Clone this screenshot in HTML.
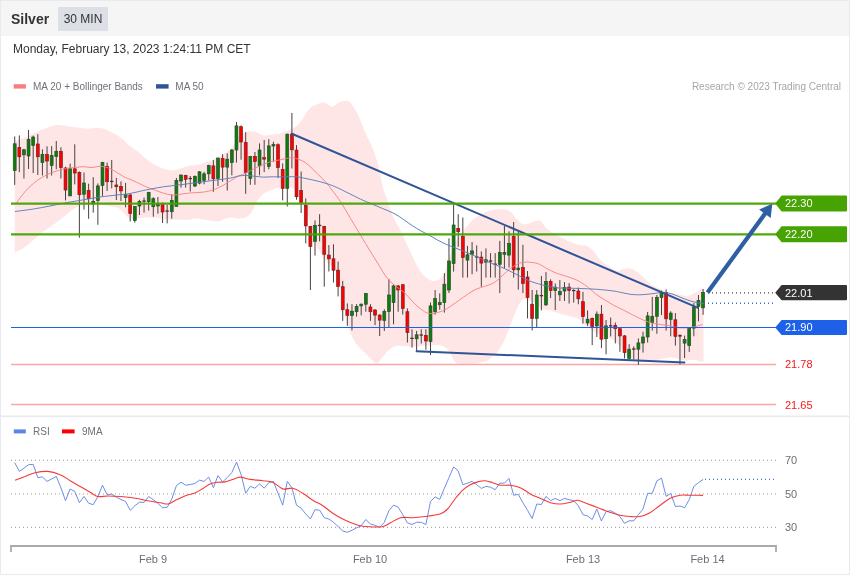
<!DOCTYPE html>
<html><head><meta charset="utf-8"><title>Silver 30 MIN</title>
<style>
html,body{margin:0;padding:0;background:#fff;}
body{width:850px;height:576px;overflow:hidden;position:relative;font-family:"Liberation Sans",Arial,sans-serif;}
#wrap{position:absolute;left:0;top:0;width:848px;height:573px;border:1px solid #e8ebee;background:#fff;}
#hdr{position:absolute;left:0;top:0;width:848px;height:35px;background:#f5f5f5;}
#ttl{position:absolute;left:10px;top:10px;font-size:14px;font-weight:bold;color:#333;line-height:16px;}
#tf{position:absolute;left:57px;top:6px;width:50px;height:24px;background:#dcdfe6;color:#333;font-size:12px;line-height:24px;text-align:center;}
#dt{position:absolute;left:12px;top:41px;font-size:12px;color:#333;line-height:14px;white-space:nowrap;}
svg{position:absolute;left:0;top:0;font-family:"Liberation Sans",Arial,sans-serif;}
</style></head><body>
<div id="wrap"><div id="hdr"><div id="ttl">Silver</div><div id="tf">30 MIN</div></div>
<div id="dt">Monday, February 13, 2023 1:24:11 PM CET</div></div>
<svg width="850" height="576" viewBox="0 0 850 576">
<path d="M14.7,141.5 C16.4,140.8 21.9,138.9 25.0,137.6 C28.1,136.2 30.6,134.7 33.4,133.4 C36.2,132.1 39.0,130.8 41.8,129.7 C44.6,128.6 47.6,127.5 50.1,126.7 C52.6,125.9 54.6,125.2 56.8,125.0 C59.0,124.8 61.3,125.1 63.5,125.4 C65.7,125.7 67.7,126.3 70.2,126.7 C72.7,127.1 75.7,127.3 78.5,127.6 C81.3,127.9 84.1,128.6 86.9,128.7 C89.7,128.8 92.4,128.1 95.2,128.1 C98.0,128.1 101.1,128.1 103.6,128.7 C106.1,129.3 108.1,130.6 110.3,131.7 C112.5,132.8 114.7,133.7 116.9,135.1 C119.1,136.5 121.6,138.4 123.6,140.1 C125.5,141.8 126.9,143.7 128.6,145.1 C130.3,146.5 132.0,147.3 133.6,148.5 C135.2,149.7 136.2,150.2 138.4,152.0 C140.6,153.8 143.9,157.0 146.7,159.2 C149.5,161.4 152.2,163.5 155.0,165.1 C157.8,166.7 160.6,167.9 163.4,168.8 C166.2,169.7 169.0,170.5 171.8,170.4 C174.6,170.3 177.3,169.2 180.1,168.4 C182.9,167.7 185.7,166.5 188.5,165.9 C191.3,165.3 194.0,165.7 196.8,165.1 C199.6,164.5 202.4,163.6 205.2,162.6 C208.0,161.6 210.7,160.4 213.5,159.2 C216.3,157.9 219.1,156.8 221.9,155.1 C224.7,153.4 228.2,150.9 230.2,149.2 C232.1,147.5 232.2,147.1 233.6,145.0 C235.0,142.9 236.4,138.9 238.6,136.7 C240.8,134.5 244.2,132.5 247.0,131.7 C249.8,130.9 252.5,131.1 255.3,131.7 C258.1,132.3 261.1,135.0 263.6,135.5 C266.1,136.0 267.9,135.0 270.4,134.7 C272.9,134.4 275.9,134.3 278.7,133.7 C281.5,133.1 284.2,132.1 287.0,130.9 C289.8,129.7 292.9,128.5 295.4,126.7 C297.9,124.9 299.8,122.9 302.0,120.0 C304.2,117.1 306.6,111.7 308.8,109.2 C311.1,106.7 313.0,106.1 315.5,105.0 C318.0,103.9 321.0,102.2 323.8,102.5 C326.6,102.8 329.7,106.7 332.2,106.7 C334.7,106.7 336.3,103.5 338.8,102.5 C341.3,101.5 345.0,100.4 347.2,100.8 C349.4,101.2 350.2,102.3 352.2,105.0 C354.1,107.7 356.7,112.0 358.9,116.7 C361.1,121.4 363.4,128.4 365.6,133.4 C367.8,138.4 370.3,142.1 372.2,146.8 C374.1,151.5 375.8,156.9 377.2,161.8 C378.6,166.7 379.6,171.6 380.6,176.0 C381.6,180.4 382.1,184.7 383.0,188.0 C383.9,191.3 385.0,193.2 386.0,196.0 C387.0,198.8 387.7,201.3 389.0,205.0 C390.3,208.7 392.3,214.7 394.0,218.4 C395.7,222.2 397.3,224.2 399.0,227.5 C400.7,230.8 402.0,233.5 404.3,238.4 C406.6,243.3 410.2,251.5 412.7,256.8 C415.2,262.1 417.2,266.6 419.4,270.0 C421.6,273.4 423.8,275.7 426.0,277.5 C428.2,279.3 430.5,280.6 432.7,280.9 C434.9,281.2 437.4,280.5 439.4,279.2 C441.3,277.9 443.0,276.0 444.4,273.3 C445.8,270.6 446.7,266.9 448.0,263.0 C449.3,259.1 450.5,254.0 452.0,250.0 C453.5,246.0 455.2,242.1 457.0,239.0 C458.8,235.9 461.0,234.0 462.8,231.7 C464.6,229.4 465.9,227.3 467.8,225.1 C469.8,222.9 472.0,220.3 474.5,218.4 C477.0,216.5 480.0,214.8 482.8,213.4 C485.6,212.0 488.4,210.7 491.2,210.0 C494.0,209.3 496.4,209.0 499.5,209.2 C502.6,209.3 506.7,209.4 509.5,210.9 C512.3,212.4 514.2,216.3 516.2,218.4 C518.2,220.5 519.5,222.4 521.2,223.4 C522.9,224.4 524.2,224.4 526.2,224.2 C528.2,223.9 530.6,222.5 532.9,221.9 C535.2,221.3 537.7,219.7 540.0,220.8 C542.3,221.9 544.2,226.2 546.7,228.4 C549.2,230.6 552.2,232.5 555.0,234.2 C557.8,235.9 560.6,237.0 563.4,238.4 C566.2,239.8 569.0,241.4 571.8,242.5 C574.6,243.6 577.6,244.4 580.1,245.0 C582.6,245.6 584.6,244.9 586.8,245.9 C589.0,246.9 591.3,248.5 593.5,250.9 C595.7,253.3 598.0,257.7 600.2,260.1 C602.4,262.5 604.6,263.6 606.8,265.1 C609.0,266.6 611.5,268.3 613.5,269.3 C615.5,270.3 616.8,271.0 618.5,270.9 C620.2,270.8 621.5,269.2 623.5,268.8 C625.5,268.4 628.0,267.9 630.2,268.4 C632.4,268.9 634.7,270.3 636.9,271.8 C639.1,273.3 641.4,275.6 643.6,277.6 C645.8,279.6 648.2,282.4 650.3,284.0 C652.4,285.6 654.0,285.9 656.0,286.9 C658.0,287.9 660.4,289.1 662.5,290.0 C664.6,290.9 666.7,291.9 668.8,292.5 C670.9,293.1 673.0,293.4 675.0,293.8 C677.0,294.2 678.9,294.6 681.0,295.0 C683.1,295.4 685.8,296.3 687.5,296.3 C689.2,296.3 689.3,295.8 691.0,295.0 C692.7,294.2 695.4,292.6 697.5,291.3 C699.6,290.1 702.5,288.1 703.5,287.5 L703.5,361.9 C701.7,361.6 695.6,360.2 692.5,360.0 C689.4,359.8 688.4,361.0 685.0,360.6 C681.6,360.2 675.6,358.0 672.0,357.6 C668.4,357.2 666.4,358.1 663.6,358.5 C660.8,358.9 658.1,359.6 655.3,360.1 C652.5,360.7 649.7,361.5 646.9,361.8 C644.1,362.1 641.4,362.2 638.6,361.8 C635.8,361.4 632.4,360.4 630.2,359.3 C628.0,358.2 626.9,357.2 625.2,355.1 C623.5,353.0 622.2,349.3 620.2,346.8 C618.2,344.3 616.0,341.8 613.5,340.1 C611.0,338.4 607.9,337.9 605.1,336.8 C602.3,335.7 599.3,334.7 596.8,333.4 C594.3,332.1 592.1,330.6 590.0,329.0 C587.9,327.4 585.7,325.5 584.0,324.0 C582.3,322.5 581.5,321.1 580.0,320.0 C578.5,318.9 577.5,318.3 575.0,317.5 C572.5,316.7 567.9,315.8 565.0,315.0 C562.1,314.2 560.0,313.7 557.5,313.0 C555.0,312.3 552.1,311.1 550.0,310.6 C547.9,310.1 546.7,310.4 545.0,310.0 C543.3,309.6 541.7,309.2 540.0,308.0 C538.3,306.8 537.1,304.4 535.0,303.0 C532.9,301.6 529.6,300.0 527.5,299.5 C525.4,299.0 524.1,298.8 522.5,300.0 C520.9,301.2 519.5,303.6 517.9,306.7 C516.3,309.8 514.6,314.2 512.9,318.4 C511.2,322.6 509.6,327.6 507.9,331.8 C506.2,336.0 504.8,339.9 502.9,343.5 C500.9,347.1 498.7,350.7 496.2,353.5 C493.7,356.3 490.6,358.7 487.8,360.2 C485.0,361.7 482.3,362.1 479.5,362.7 C476.7,363.3 473.9,363.5 471.1,363.8 C468.3,364.1 465.3,364.5 462.8,364.3 C460.3,364.1 457.8,363.7 456.1,362.7 C454.4,361.7 453.9,360.3 452.8,358.5 C451.7,356.7 450.8,353.8 449.4,351.8 C448.0,349.9 446.3,347.9 444.4,346.8 C442.4,345.7 440.2,345.3 437.7,345.1 C435.2,344.9 432.2,345.4 429.4,345.5 C426.6,345.6 423.8,345.8 421.0,346.0 C418.2,346.2 415.5,346.8 412.7,346.8 C409.9,346.8 406.9,346.1 404.0,346.0 C401.1,345.9 398.1,345.3 395.6,346.0 C393.1,346.7 391.2,348.2 389.0,350.1 C386.8,352.0 384.2,355.4 382.2,357.6 C380.2,359.8 378.9,363.1 377.2,363.5 C375.5,363.9 374.1,361.9 372.2,360.2 C370.2,358.5 368.0,356.0 365.5,353.5 C363.0,351.0 359.4,347.9 357.2,345.1 C355.0,342.3 353.6,339.7 352.2,336.8 C350.8,333.9 350.3,333.2 348.8,327.6 C347.3,322.0 344.4,310.2 343.0,303.4 C341.6,296.6 341.8,292.3 340.5,286.7 C339.2,281.1 337.8,274.1 335.5,270.0 C333.2,265.9 330.1,265.9 327.0,262.0 C323.9,258.1 319.5,252.1 317.0,246.8 C314.5,241.5 313.6,235.6 312.0,230.0 C310.4,224.4 308.6,217.9 307.1,213.4 C305.6,208.9 304.4,205.7 302.9,203.0 C301.4,200.3 299.7,199.1 298.3,197.0 C296.9,194.9 295.6,192.1 294.5,190.5 C293.4,188.9 294.4,188.2 291.7,187.7 C289.0,187.2 281.8,187.4 278.5,187.7 C275.2,188.0 273.9,189.0 272.0,189.7 C270.1,190.4 268.7,190.8 267.0,191.7 C265.3,192.6 263.7,193.3 262.0,195.0 C260.3,196.7 258.6,198.9 256.9,201.7 C255.2,204.5 253.6,209.2 251.9,211.7 C250.2,214.2 249.2,215.5 247.0,216.7 C244.8,217.9 241.1,218.5 238.6,218.7 C236.1,218.8 234.0,217.6 231.8,217.6 C229.6,217.6 227.4,218.1 225.2,218.7 C223.0,219.3 220.4,221.0 218.5,221.4 C216.6,221.8 215.8,221.2 213.5,220.9 C211.2,220.6 207.8,220.1 205.0,219.7 C202.2,219.3 199.6,218.4 196.8,218.4 C194.1,218.4 191.3,219.5 188.5,219.7 C185.7,219.9 182.8,219.7 180.0,219.7 C177.2,219.7 174.6,219.8 171.8,219.7 C169.0,219.6 166.2,219.5 163.4,219.2 C160.6,218.8 158.6,217.8 155.0,217.6 C151.4,217.4 146.2,217.7 142.0,217.8 C137.8,217.9 133.2,219.4 130.0,218.4 C126.8,217.4 125.2,213.8 123.0,212.0 C120.8,210.2 119.4,208.6 117.0,207.6 C114.6,206.6 111.4,206.6 108.6,206.0 C105.8,205.4 102.8,204.7 100.0,204.3 C97.2,203.9 94.8,203.7 92.0,203.8 C89.2,203.9 86.3,204.3 83.5,205.0 C80.7,205.7 78.0,206.4 75.2,208.0 C72.4,209.6 69.6,212.1 66.8,214.3 C64.0,216.5 61.3,218.9 58.5,221.0 C55.7,223.1 52.8,224.9 50.0,226.8 C47.2,228.8 44.6,230.5 41.8,232.7 C39.0,234.9 36.2,237.6 33.4,240.0 C30.6,242.4 28.1,244.8 25.0,246.9 C21.9,249.0 16.4,251.7 14.7,252.7 Z" fill="#ffe6e6"/>
<line x1="11" x2="776" y1="364.5" y2="364.5" stroke="#f9a6a6" stroke-width="1.4"/>
<line x1="11" x2="776" y1="404.5" y2="404.5" stroke="#f9a6a6" stroke-width="1.4"/>
<line x1="14.70" x2="14.70" y1="136.4" y2="184.9" stroke="#4a4040" stroke-width="1"/>
<rect x="13.25" y="143.8" width="2.9" height="26.7" fill="#0a7f0a" stroke="#2f4a2f" stroke-width="0.7"/>
<line x1="19.32" x2="19.32" y1="135.4" y2="172.2" stroke="#4a4040" stroke-width="1"/>
<rect x="17.87" y="147.6" width="2.9" height="9.2" fill="#ff0000" stroke="#7a2020" stroke-width="0.7"/>
<line x1="23.94" x2="23.94" y1="148.8" y2="178.5" stroke="#4a4040" stroke-width="1"/>
<rect x="22.49" y="149.8" width="2.9" height="5.0" fill="#0a7f0a" stroke="#2f4a2f" stroke-width="0.7"/>
<line x1="28.56" x2="28.56" y1="130.0" y2="169.0" stroke="#4a4040" stroke-width="1"/>
<rect x="27.11" y="139.3" width="2.9" height="16.7" fill="#0a7f0a" stroke="#2f4a2f" stroke-width="0.7"/>
<line x1="33.18" x2="33.18" y1="135.6" y2="173.0" stroke="#4a4040" stroke-width="1"/>
<rect x="31.73" y="137.0" width="2.9" height="8.6" fill="#0a7f0a" stroke="#2f4a2f" stroke-width="0.7"/>
<line x1="37.80" x2="37.80" y1="134.2" y2="175.0" stroke="#4a4040" stroke-width="1"/>
<rect x="36.35" y="144.0" width="2.9" height="12.8" fill="#ff0000" stroke="#7a2020" stroke-width="0.7"/>
<line x1="42.42" x2="42.42" y1="149.4" y2="175.5" stroke="#4a4040" stroke-width="1"/>
<rect x="40.97" y="154.3" width="2.9" height="8.3" fill="#0a7f0a" stroke="#2f4a2f" stroke-width="0.7"/>
<line x1="47.04" x2="47.04" y1="146.3" y2="178.5" stroke="#4a4040" stroke-width="1"/>
<rect x="45.59" y="154.6" width="2.9" height="6.4" fill="#ff0000" stroke="#7a2020" stroke-width="0.7"/>
<line x1="51.66" x2="51.66" y1="146.0" y2="175.5" stroke="#4a4040" stroke-width="1"/>
<rect x="50.21" y="155.6" width="2.9" height="9.9" fill="#0a7f0a" stroke="#2f4a2f" stroke-width="0.7"/>
<line x1="56.28" x2="56.28" y1="141.0" y2="169.3" stroke="#4a4040" stroke-width="1"/>
<rect x="54.83" y="151.3" width="2.9" height="5.2" fill="#0a7f0a" stroke="#2f4a2f" stroke-width="0.7"/>
<line x1="60.90" x2="60.90" y1="147.3" y2="178.5" stroke="#4a4040" stroke-width="1"/>
<rect x="59.45" y="151.3" width="2.9" height="16.3" fill="#ff0000" stroke="#7a2020" stroke-width="0.7"/>
<line x1="65.52" x2="65.52" y1="166.8" y2="200.4" stroke="#4a4040" stroke-width="1"/>
<rect x="64.07" y="168.0" width="2.9" height="22.0" fill="#ff0000" stroke="#7a2020" stroke-width="0.7"/>
<line x1="70.14" x2="70.14" y1="163.7" y2="196.0" stroke="#4a4040" stroke-width="1"/>
<rect x="68.69" y="168.7" width="2.9" height="27.2" fill="#0a7f0a" stroke="#2f4a2f" stroke-width="0.7"/>
<line x1="74.76" x2="74.76" y1="144.3" y2="184.4" stroke="#4a4040" stroke-width="1"/>
<rect x="73.31" y="168.8" width="2.9" height="4.2" fill="#ff0000" stroke="#7a2020" stroke-width="0.7"/>
<line x1="79.38" x2="79.38" y1="171.4" y2="237.7" stroke="#4a4040" stroke-width="1"/>
<rect x="77.93" y="172.5" width="2.9" height="22.2" fill="#ff0000" stroke="#7a2020" stroke-width="0.7"/>
<line x1="84.00" x2="84.00" y1="172.5" y2="209.6" stroke="#4a4040" stroke-width="1"/>
<rect x="82.55" y="183.0" width="2.9" height="11.2" fill="#0a7f0a" stroke="#2f4a2f" stroke-width="0.7"/>
<line x1="88.62" x2="88.62" y1="183.7" y2="218.8" stroke="#4a4040" stroke-width="1"/>
<rect x="87.17" y="190.4" width="2.9" height="8.3" fill="#ff0000" stroke="#7a2020" stroke-width="0.7"/>
<line x1="93.24" x2="93.24" y1="177.2" y2="212.6" stroke="#4a4040" stroke-width="1"/>
<rect x="91.79" y="201.4" width="2.9" height="2.4" fill="#0a7f0a" stroke="#2f4a2f" stroke-width="0.7"/>
<line x1="97.86" x2="97.86" y1="183.4" y2="224.8" stroke="#4a4040" stroke-width="1"/>
<rect x="96.41" y="185.9" width="2.9" height="14.7" fill="#0a7f0a" stroke="#2f4a2f" stroke-width="0.7"/>
<line x1="102.48" x2="102.48" y1="161.8" y2="195.9" stroke="#4a4040" stroke-width="1"/>
<rect x="101.03" y="162.5" width="2.9" height="22.9" fill="#0a7f0a" stroke="#2f4a2f" stroke-width="0.7"/>
<line x1="107.10" x2="107.10" y1="162.6" y2="190.9" stroke="#4a4040" stroke-width="1"/>
<rect x="105.65" y="166.3" width="2.9" height="15.4" fill="#ff0000" stroke="#7a2020" stroke-width="0.7"/>
<line x1="111.72" x2="111.72" y1="160.0" y2="188.4" stroke="#4a4040" stroke-width="1"/>
<rect x="110.02" y="180.8" width="3.4" height="1.3" fill="#5e2626"/>
<line x1="116.34" x2="116.34" y1="177.9" y2="200.0" stroke="#4a4040" stroke-width="1"/>
<rect x="114.89" y="185.0" width="2.9" height="1.7" fill="#ff0000" stroke="#7a2020" stroke-width="0.7"/>
<line x1="120.96" x2="120.96" y1="181.4" y2="201.0" stroke="#4a4040" stroke-width="1"/>
<rect x="119.51" y="186.4" width="2.9" height="4.5" fill="#ff0000" stroke="#7a2020" stroke-width="0.7"/>
<line x1="125.58" x2="125.58" y1="182.9" y2="207.3" stroke="#4a4040" stroke-width="1"/>
<rect x="124.13" y="194.6" width="2.9" height="3.0" fill="#0a7f0a" stroke="#2f4a2f" stroke-width="0.7"/>
<line x1="130.20" x2="130.20" y1="193.4" y2="221.5" stroke="#4a4040" stroke-width="1"/>
<rect x="128.75" y="195.0" width="2.9" height="18.5" fill="#ff0000" stroke="#7a2020" stroke-width="0.7"/>
<line x1="134.82" x2="134.82" y1="206.0" y2="222.6" stroke="#4a4040" stroke-width="1"/>
<rect x="133.37" y="206.4" width="2.9" height="14.1" fill="#0a7f0a" stroke="#2f4a2f" stroke-width="0.7"/>
<line x1="139.44" x2="139.44" y1="199.8" y2="215.0" stroke="#4a4040" stroke-width="1"/>
<rect x="137.99" y="201.4" width="2.9" height="4.6" fill="#0a7f0a" stroke="#2f4a2f" stroke-width="0.7"/>
<line x1="144.06" x2="144.06" y1="197.5" y2="212.6" stroke="#4a4040" stroke-width="1"/>
<rect x="142.36" y="200.4" width="3.4" height="1.3" fill="#5e2626"/>
<line x1="148.68" x2="148.68" y1="191.7" y2="210.6" stroke="#4a4040" stroke-width="1"/>
<rect x="147.23" y="192.5" width="2.9" height="9.2" fill="#0a7f0a" stroke="#2f4a2f" stroke-width="0.7"/>
<line x1="153.30" x2="153.30" y1="197.2" y2="216.7" stroke="#4a4040" stroke-width="1"/>
<rect x="151.85" y="198.7" width="2.9" height="8.0" fill="#0a7f0a" stroke="#2f4a2f" stroke-width="0.7"/>
<line x1="157.92" x2="157.92" y1="197.0" y2="213.7" stroke="#4a4040" stroke-width="1"/>
<rect x="156.47" y="203.9" width="2.9" height="2.0" fill="#0a7f0a" stroke="#2f4a2f" stroke-width="0.7"/>
<line x1="162.54" x2="162.54" y1="202.5" y2="223.0" stroke="#4a4040" stroke-width="1"/>
<rect x="161.09" y="204.2" width="2.9" height="7.8" fill="#ff0000" stroke="#7a2020" stroke-width="0.7"/>
<line x1="167.16" x2="167.16" y1="204.7" y2="223.4" stroke="#4a4040" stroke-width="1"/>
<rect x="165.46" y="210.4" width="3.4" height="1.3" fill="#5e2626"/>
<line x1="171.78" x2="171.78" y1="194.2" y2="218.7" stroke="#4a4040" stroke-width="1"/>
<rect x="170.33" y="200.5" width="2.9" height="11.2" fill="#0a7f0a" stroke="#2f4a2f" stroke-width="0.7"/>
<line x1="176.40" x2="176.40" y1="178.0" y2="206.4" stroke="#4a4040" stroke-width="1"/>
<rect x="174.95" y="180.4" width="2.9" height="26.0" fill="#0a7f0a" stroke="#2f4a2f" stroke-width="0.7"/>
<line x1="181.02" x2="181.02" y1="174.3" y2="187.6" stroke="#4a4040" stroke-width="1"/>
<rect x="179.57" y="175.1" width="2.9" height="5.9" fill="#0a7f0a" stroke="#2f4a2f" stroke-width="0.7"/>
<line x1="185.64" x2="185.64" y1="174.8" y2="187.6" stroke="#4a4040" stroke-width="1"/>
<rect x="184.19" y="175.4" width="2.9" height="3.9" fill="#ff0000" stroke="#7a2020" stroke-width="0.7"/>
<line x1="190.26" x2="190.26" y1="176.0" y2="191.5" stroke="#4a4040" stroke-width="1"/>
<rect x="188.56" y="177.9" width="3.4" height="1.3" fill="#5e2626"/>
<line x1="194.88" x2="194.88" y1="175.4" y2="187.1" stroke="#4a4040" stroke-width="1"/>
<rect x="193.43" y="176.4" width="2.9" height="9.6" fill="#0a7f0a" stroke="#2f4a2f" stroke-width="0.7"/>
<line x1="199.50" x2="199.50" y1="171.3" y2="184.3" stroke="#4a4040" stroke-width="1"/>
<rect x="198.05" y="171.8" width="2.9" height="11.3" fill="#0a7f0a" stroke="#2f4a2f" stroke-width="0.7"/>
<line x1="204.12" x2="204.12" y1="171.8" y2="184.3" stroke="#4a4040" stroke-width="1"/>
<rect x="202.67" y="173.8" width="2.9" height="6.6" fill="#0a7f0a" stroke="#2f4a2f" stroke-width="0.7"/>
<line x1="208.74" x2="208.74" y1="164.7" y2="180.4" stroke="#4a4040" stroke-width="1"/>
<rect x="207.29" y="165.6" width="2.9" height="8.2" fill="#0a7f0a" stroke="#2f4a2f" stroke-width="0.7"/>
<line x1="213.36" x2="213.36" y1="160.1" y2="191.8" stroke="#4a4040" stroke-width="1"/>
<rect x="211.91" y="165.9" width="2.9" height="12.9" fill="#ff0000" stroke="#7a2020" stroke-width="0.7"/>
<line x1="217.98" x2="217.98" y1="157.6" y2="186.0" stroke="#4a4040" stroke-width="1"/>
<rect x="216.53" y="158.1" width="2.9" height="20.3" fill="#0a7f0a" stroke="#2f4a2f" stroke-width="0.7"/>
<line x1="222.60" x2="222.60" y1="154.2" y2="181.8" stroke="#4a4040" stroke-width="1"/>
<rect x="221.15" y="158.4" width="2.9" height="8.7" fill="#ff0000" stroke="#7a2020" stroke-width="0.7"/>
<line x1="227.22" x2="227.22" y1="153.4" y2="190.5" stroke="#4a4040" stroke-width="1"/>
<rect x="225.77" y="159.2" width="2.9" height="7.9" fill="#0a7f0a" stroke="#2f4a2f" stroke-width="0.7"/>
<line x1="231.84" x2="231.84" y1="149.2" y2="175.4" stroke="#4a4040" stroke-width="1"/>
<rect x="230.39" y="150.0" width="2.9" height="12.6" fill="#0a7f0a" stroke="#2f4a2f" stroke-width="0.7"/>
<line x1="236.46" x2="236.46" y1="122.0" y2="162.6" stroke="#4a4040" stroke-width="1"/>
<rect x="235.01" y="125.9" width="2.9" height="24.1" fill="#0a7f0a" stroke="#2f4a2f" stroke-width="0.7"/>
<line x1="241.08" x2="241.08" y1="125.4" y2="159.7" stroke="#4a4040" stroke-width="1"/>
<rect x="239.63" y="126.7" width="2.9" height="15.3" fill="#ff0000" stroke="#7a2020" stroke-width="0.7"/>
<line x1="245.70" x2="245.70" y1="132.2" y2="193.8" stroke="#4a4040" stroke-width="1"/>
<rect x="244.25" y="142.5" width="2.9" height="30.1" fill="#ff0000" stroke="#7a2020" stroke-width="0.7"/>
<line x1="250.32" x2="250.32" y1="155.9" y2="184.8" stroke="#4a4040" stroke-width="1"/>
<rect x="248.87" y="156.4" width="2.9" height="22.0" fill="#0a7f0a" stroke="#2f4a2f" stroke-width="0.7"/>
<line x1="254.94" x2="254.94" y1="152.0" y2="184.8" stroke="#4a4040" stroke-width="1"/>
<rect x="253.49" y="156.4" width="2.9" height="5.0" fill="#ff0000" stroke="#7a2020" stroke-width="0.7"/>
<line x1="259.56" x2="259.56" y1="143.4" y2="175.4" stroke="#4a4040" stroke-width="1"/>
<rect x="258.11" y="150.0" width="2.9" height="15.9" fill="#0a7f0a" stroke="#2f4a2f" stroke-width="0.7"/>
<line x1="264.18" x2="264.18" y1="140.0" y2="172.1" stroke="#4a4040" stroke-width="1"/>
<rect x="262.73" y="157.6" width="2.9" height="1.6" fill="#ff0000" stroke="#7a2020" stroke-width="0.7"/>
<line x1="268.80" x2="268.80" y1="139.2" y2="169.3" stroke="#4a4040" stroke-width="1"/>
<rect x="267.35" y="145.9" width="2.9" height="20.5" fill="#0a7f0a" stroke="#2f4a2f" stroke-width="0.7"/>
<line x1="273.42" x2="273.42" y1="141.7" y2="161.8" stroke="#4a4040" stroke-width="1"/>
<rect x="271.97" y="144.6" width="2.9" height="1.4" fill="#0a7f0a" stroke="#2f4a2f" stroke-width="0.7"/>
<line x1="278.04" x2="278.04" y1="143.4" y2="178.0" stroke="#4a4040" stroke-width="1"/>
<rect x="276.59" y="144.7" width="2.9" height="22.9" fill="#ff0000" stroke="#7a2020" stroke-width="0.7"/>
<line x1="282.66" x2="282.66" y1="163.4" y2="200.4" stroke="#4a4040" stroke-width="1"/>
<rect x="281.21" y="169.6" width="2.9" height="18.8" fill="#ff0000" stroke="#7a2020" stroke-width="0.7"/>
<line x1="287.28" x2="287.28" y1="133.7" y2="206.4" stroke="#4a4040" stroke-width="1"/>
<rect x="285.83" y="134.2" width="2.9" height="54.2" fill="#0a7f0a" stroke="#2f4a2f" stroke-width="0.7"/>
<line x1="291.90" x2="291.90" y1="113.0" y2="168.5" stroke="#4a4040" stroke-width="1"/>
<rect x="290.45" y="134.2" width="2.9" height="15.6" fill="#ff0000" stroke="#7a2020" stroke-width="0.7"/>
<line x1="296.52" x2="296.52" y1="145.1" y2="199.7" stroke="#4a4040" stroke-width="1"/>
<rect x="295.07" y="150.1" width="2.9" height="46.6" fill="#ff0000" stroke="#7a2020" stroke-width="0.7"/>
<line x1="301.14" x2="301.14" y1="171.5" y2="213.0" stroke="#4a4040" stroke-width="1"/>
<rect x="299.69" y="190.4" width="2.9" height="12.1" fill="#ff0000" stroke="#7a2020" stroke-width="0.7"/>
<line x1="305.76" x2="305.76" y1="198.4" y2="243.4" stroke="#4a4040" stroke-width="1"/>
<rect x="304.31" y="205.4" width="2.9" height="20.5" fill="#ff0000" stroke="#7a2020" stroke-width="0.7"/>
<line x1="310.38" x2="310.38" y1="225.9" y2="290.0" stroke="#4a4040" stroke-width="1"/>
<rect x="308.93" y="226.4" width="2.9" height="20.0" fill="#ff0000" stroke="#7a2020" stroke-width="0.7"/>
<line x1="315.00" x2="315.00" y1="220.4" y2="255.5" stroke="#4a4040" stroke-width="1"/>
<rect x="313.55" y="225.4" width="2.9" height="16.0" fill="#0a7f0a" stroke="#2f4a2f" stroke-width="0.7"/>
<line x1="319.62" x2="319.62" y1="214.2" y2="241.4" stroke="#4a4040" stroke-width="1"/>
<rect x="317.92" y="224.8" width="3.4" height="1.3" fill="#5e2626"/>
<line x1="324.24" x2="324.24" y1="225.9" y2="286.7" stroke="#4a4040" stroke-width="1"/>
<rect x="322.79" y="226.4" width="2.9" height="27.9" fill="#ff0000" stroke="#7a2020" stroke-width="0.7"/>
<line x1="328.86" x2="328.86" y1="245.1" y2="271.5" stroke="#4a4040" stroke-width="1"/>
<rect x="327.41" y="255.1" width="2.9" height="3.7" fill="#ff0000" stroke="#7a2020" stroke-width="0.7"/>
<line x1="333.48" x2="333.48" y1="244.3" y2="282.5" stroke="#4a4040" stroke-width="1"/>
<rect x="332.03" y="258.8" width="2.9" height="11.4" fill="#ff0000" stroke="#7a2020" stroke-width="0.7"/>
<line x1="338.10" x2="338.10" y1="261.5" y2="296.4" stroke="#4a4040" stroke-width="1"/>
<rect x="336.65" y="270.2" width="2.9" height="16.2" fill="#ff0000" stroke="#7a2020" stroke-width="0.7"/>
<line x1="342.72" x2="342.72" y1="280.9" y2="320.9" stroke="#4a4040" stroke-width="1"/>
<rect x="341.27" y="286.7" width="2.9" height="23.0" fill="#ff0000" stroke="#7a2020" stroke-width="0.7"/>
<line x1="347.34" x2="347.34" y1="303.4" y2="325.9" stroke="#4a4040" stroke-width="1"/>
<rect x="345.89" y="309.7" width="2.9" height="5.7" fill="#ff0000" stroke="#7a2020" stroke-width="0.7"/>
<line x1="351.96" x2="351.96" y1="304.2" y2="330.4" stroke="#4a4040" stroke-width="1"/>
<rect x="350.51" y="311.2" width="2.9" height="4.2" fill="#0a7f0a" stroke="#2f4a2f" stroke-width="0.7"/>
<line x1="356.58" x2="356.58" y1="304.2" y2="316.7" stroke="#4a4040" stroke-width="1"/>
<rect x="355.13" y="306.4" width="2.9" height="5.3" fill="#0a7f0a" stroke="#2f4a2f" stroke-width="0.7"/>
<line x1="361.20" x2="361.20" y1="303.4" y2="315.4" stroke="#4a4040" stroke-width="1"/>
<rect x="359.75" y="304.2" width="2.9" height="1.7" fill="#0a7f0a" stroke="#2f4a2f" stroke-width="0.7"/>
<line x1="365.82" x2="365.82" y1="293.0" y2="311.7" stroke="#4a4040" stroke-width="1"/>
<rect x="364.37" y="293.4" width="2.9" height="10.8" fill="#0a7f0a" stroke="#2f4a2f" stroke-width="0.7"/>
<line x1="370.44" x2="370.44" y1="304.2" y2="320.9" stroke="#4a4040" stroke-width="1"/>
<rect x="368.99" y="307.0" width="2.9" height="4.7" fill="#ff0000" stroke="#7a2020" stroke-width="0.7"/>
<line x1="375.06" x2="375.06" y1="309.2" y2="325.1" stroke="#4a4040" stroke-width="1"/>
<rect x="373.61" y="310.0" width="2.9" height="5.1" fill="#ff0000" stroke="#7a2020" stroke-width="0.7"/>
<line x1="379.68" x2="379.68" y1="314.2" y2="336.0" stroke="#4a4040" stroke-width="1"/>
<rect x="378.23" y="315.1" width="2.9" height="5.0" fill="#ff0000" stroke="#7a2020" stroke-width="0.7"/>
<line x1="384.30" x2="384.30" y1="309.2" y2="331.0" stroke="#4a4040" stroke-width="1"/>
<rect x="382.85" y="311.4" width="2.9" height="9.0" fill="#0a7f0a" stroke="#2f4a2f" stroke-width="0.7"/>
<line x1="388.92" x2="388.92" y1="279.2" y2="327.1" stroke="#4a4040" stroke-width="1"/>
<rect x="387.47" y="295.0" width="2.9" height="16.4" fill="#0a7f0a" stroke="#2f4a2f" stroke-width="0.7"/>
<line x1="393.54" x2="393.54" y1="284.2" y2="324.3" stroke="#4a4040" stroke-width="1"/>
<rect x="392.09" y="285.9" width="2.9" height="16.7" fill="#0a7f0a" stroke="#2f4a2f" stroke-width="0.7"/>
<line x1="398.16" x2="398.16" y1="285.0" y2="311.7" stroke="#4a4040" stroke-width="1"/>
<rect x="396.71" y="285.9" width="2.9" height="4.1" fill="#ff0000" stroke="#7a2020" stroke-width="0.7"/>
<line x1="402.78" x2="402.78" y1="284.2" y2="314.5" stroke="#4a4040" stroke-width="1"/>
<rect x="401.33" y="284.7" width="2.9" height="23.7" fill="#ff0000" stroke="#7a2020" stroke-width="0.7"/>
<line x1="407.40" x2="407.40" y1="308.4" y2="342.6" stroke="#4a4040" stroke-width="1"/>
<rect x="405.95" y="311.7" width="2.9" height="20.9" fill="#ff0000" stroke="#7a2020" stroke-width="0.7"/>
<line x1="412.02" x2="412.02" y1="329.3" y2="347.6" stroke="#4a4040" stroke-width="1"/>
<rect x="410.32" y="337.7" width="3.4" height="1.3" fill="#5e2626"/>
<line x1="416.64" x2="416.64" y1="330.9" y2="351.8" stroke="#4a4040" stroke-width="1"/>
<rect x="415.19" y="334.8" width="2.9" height="4.0" fill="#0a7f0a" stroke="#2f4a2f" stroke-width="0.7"/>
<line x1="421.26" x2="421.26" y1="329.3" y2="343.5" stroke="#4a4040" stroke-width="1"/>
<rect x="419.56" y="334.4" width="3.4" height="1.3" fill="#5e2626"/>
<line x1="425.88" x2="425.88" y1="329.3" y2="349.8" stroke="#4a4040" stroke-width="1"/>
<rect x="424.43" y="335.4" width="2.9" height="5.6" fill="#ff0000" stroke="#7a2020" stroke-width="0.7"/>
<line x1="430.50" x2="430.50" y1="302.6" y2="355.1" stroke="#4a4040" stroke-width="1"/>
<rect x="429.05" y="305.9" width="2.9" height="35.6" fill="#0a7f0a" stroke="#2f4a2f" stroke-width="0.7"/>
<line x1="435.12" x2="435.12" y1="290.0" y2="314.7" stroke="#4a4040" stroke-width="1"/>
<rect x="433.67" y="298.4" width="2.9" height="13.3" fill="#0a7f0a" stroke="#2f4a2f" stroke-width="0.7"/>
<line x1="439.74" x2="439.74" y1="293.4" y2="309.7" stroke="#4a4040" stroke-width="1"/>
<rect x="438.29" y="302.6" width="2.9" height="2.1" fill="#0a7f0a" stroke="#2f4a2f" stroke-width="0.7"/>
<line x1="444.36" x2="444.36" y1="273.1" y2="312.6" stroke="#4a4040" stroke-width="1"/>
<rect x="442.91" y="284.2" width="2.9" height="18.4" fill="#0a7f0a" stroke="#2f4a2f" stroke-width="0.7"/>
<line x1="448.98" x2="448.98" y1="238.4" y2="293.0" stroke="#4a4040" stroke-width="1"/>
<rect x="447.53" y="261.0" width="2.9" height="29.0" fill="#0a7f0a" stroke="#2f4a2f" stroke-width="0.7"/>
<line x1="453.60" x2="453.60" y1="202.5" y2="271.6" stroke="#4a4040" stroke-width="1"/>
<rect x="452.15" y="225.0" width="2.9" height="38.5" fill="#0a7f0a" stroke="#2f4a2f" stroke-width="0.7"/>
<line x1="458.22" x2="458.22" y1="214.2" y2="246.8" stroke="#4a4040" stroke-width="1"/>
<rect x="456.77" y="228.4" width="2.9" height="3.3" fill="#ff0000" stroke="#7a2020" stroke-width="0.7"/>
<line x1="462.84" x2="462.84" y1="217.5" y2="277.6" stroke="#4a4040" stroke-width="1"/>
<rect x="461.39" y="236.4" width="2.9" height="21.2" fill="#ff0000" stroke="#7a2020" stroke-width="0.7"/>
<line x1="467.46" x2="467.46" y1="245.9" y2="277.6" stroke="#4a4040" stroke-width="1"/>
<rect x="466.01" y="254.8" width="2.9" height="5.3" fill="#0a7f0a" stroke="#2f4a2f" stroke-width="0.7"/>
<line x1="472.08" x2="472.08" y1="242.1" y2="274.3" stroke="#4a4040" stroke-width="1"/>
<rect x="470.63" y="250.9" width="2.9" height="3.4" fill="#0a7f0a" stroke="#2f4a2f" stroke-width="0.7"/>
<line x1="476.70" x2="476.70" y1="245.4" y2="271.5" stroke="#4a4040" stroke-width="1"/>
<rect x="475.00" y="256.3" width="3.4" height="1.3" fill="#5e2626"/>
<line x1="481.32" x2="481.32" y1="251.4" y2="286.7" stroke="#4a4040" stroke-width="1"/>
<rect x="479.87" y="257.1" width="2.9" height="6.0" fill="#ff0000" stroke="#7a2020" stroke-width="0.7"/>
<line x1="485.94" x2="485.94" y1="248.4" y2="277.6" stroke="#4a4040" stroke-width="1"/>
<rect x="484.49" y="259.8" width="2.9" height="2.3" fill="#0a7f0a" stroke="#2f4a2f" stroke-width="0.7"/>
<line x1="490.56" x2="490.56" y1="253.1" y2="277.6" stroke="#4a4040" stroke-width="1"/>
<rect x="488.86" y="260.4" width="3.4" height="1.3" fill="#5e2626"/>
<line x1="495.18" x2="495.18" y1="253.1" y2="277.6" stroke="#4a4040" stroke-width="1"/>
<rect x="493.48" y="263.6" width="3.4" height="1.3" fill="#5e2626"/>
<line x1="499.80" x2="499.80" y1="240.9" y2="293.0" stroke="#4a4040" stroke-width="1"/>
<rect x="498.35" y="252.6" width="2.9" height="11.7" fill="#0a7f0a" stroke="#2f4a2f" stroke-width="0.7"/>
<line x1="504.42" x2="504.42" y1="225.9" y2="268.5" stroke="#4a4040" stroke-width="1"/>
<rect x="502.97" y="252.6" width="2.9" height="1.7" fill="#0a7f0a" stroke="#2f4a2f" stroke-width="0.7"/>
<line x1="509.04" x2="509.04" y1="231.4" y2="267.6" stroke="#4a4040" stroke-width="1"/>
<rect x="507.59" y="243.4" width="2.9" height="11.7" fill="#0a7f0a" stroke="#2f4a2f" stroke-width="0.7"/>
<line x1="513.66" x2="513.66" y1="222.0" y2="277.6" stroke="#4a4040" stroke-width="1"/>
<rect x="512.21" y="236.4" width="2.9" height="33.4" fill="#ff0000" stroke="#7a2020" stroke-width="0.7"/>
<line x1="518.28" x2="518.28" y1="231.7" y2="289.7" stroke="#4a4040" stroke-width="1"/>
<rect x="516.83" y="268.1" width="2.9" height="1.7" fill="#0a7f0a" stroke="#2f4a2f" stroke-width="0.7"/>
<line x1="522.90" x2="522.90" y1="244.8" y2="293.0" stroke="#4a4040" stroke-width="1"/>
<rect x="521.45" y="267.6" width="2.9" height="15.8" fill="#ff0000" stroke="#7a2020" stroke-width="0.7"/>
<line x1="527.52" x2="527.52" y1="271.0" y2="318.4" stroke="#4a4040" stroke-width="1"/>
<rect x="526.07" y="277.0" width="2.9" height="20.5" fill="#ff0000" stroke="#7a2020" stroke-width="0.7"/>
<line x1="532.14" x2="532.14" y1="290.0" y2="330.4" stroke="#4a4040" stroke-width="1"/>
<rect x="530.69" y="304.2" width="2.9" height="14.3" fill="#ff0000" stroke="#7a2020" stroke-width="0.7"/>
<line x1="536.76" x2="536.76" y1="290.1" y2="327.6" stroke="#4a4040" stroke-width="1"/>
<rect x="535.31" y="295.0" width="2.9" height="23.4" fill="#0a7f0a" stroke="#2f4a2f" stroke-width="0.7"/>
<line x1="541.38" x2="541.38" y1="275.9" y2="310.4" stroke="#4a4040" stroke-width="1"/>
<rect x="539.68" y="295.0" width="3.4" height="1.3" fill="#5e2626"/>
<line x1="546.00" x2="546.00" y1="272.1" y2="306.0" stroke="#4a4040" stroke-width="1"/>
<rect x="544.55" y="281.4" width="2.9" height="23.4" fill="#0a7f0a" stroke="#2f4a2f" stroke-width="0.7"/>
<line x1="550.62" x2="550.62" y1="279.3" y2="298.1" stroke="#4a4040" stroke-width="1"/>
<rect x="549.17" y="281.4" width="2.9" height="9.1" fill="#ff0000" stroke="#7a2020" stroke-width="0.7"/>
<line x1="555.24" x2="555.24" y1="283.4" y2="310.0" stroke="#4a4040" stroke-width="1"/>
<rect x="553.79" y="287.1" width="2.9" height="3.4" fill="#0a7f0a" stroke="#2f4a2f" stroke-width="0.7"/>
<line x1="559.86" x2="559.86" y1="280.1" y2="301.0" stroke="#4a4040" stroke-width="1"/>
<rect x="558.41" y="291.5" width="2.9" height="3.3" fill="#0a7f0a" stroke="#2f4a2f" stroke-width="0.7"/>
<line x1="564.48" x2="564.48" y1="282.1" y2="301.0" stroke="#4a4040" stroke-width="1"/>
<rect x="563.03" y="287.3" width="2.9" height="3.7" fill="#0a7f0a" stroke="#2f4a2f" stroke-width="0.7"/>
<line x1="569.10" x2="569.10" y1="283.1" y2="303.5" stroke="#4a4040" stroke-width="1"/>
<rect x="567.65" y="287.1" width="2.9" height="3.4" fill="#ff0000" stroke="#7a2020" stroke-width="0.7"/>
<line x1="573.72" x2="573.72" y1="289.3" y2="302.6" stroke="#4a4040" stroke-width="1"/>
<rect x="572.02" y="289.9" width="3.4" height="1.3" fill="#5e2626"/>
<line x1="578.34" x2="578.34" y1="287.6" y2="304.3" stroke="#4a4040" stroke-width="1"/>
<rect x="576.89" y="291.0" width="2.9" height="7.8" fill="#ff0000" stroke="#7a2020" stroke-width="0.7"/>
<line x1="582.96" x2="582.96" y1="291.8" y2="323.7" stroke="#4a4040" stroke-width="1"/>
<rect x="581.51" y="301.7" width="2.9" height="14.7" fill="#ff0000" stroke="#7a2020" stroke-width="0.7"/>
<line x1="587.58" x2="587.58" y1="310.4" y2="325.9" stroke="#4a4040" stroke-width="1"/>
<rect x="586.13" y="319.2" width="2.9" height="3.8" fill="#0a7f0a" stroke="#2f4a2f" stroke-width="0.7"/>
<line x1="592.20" x2="592.20" y1="317.5" y2="345.1" stroke="#4a4040" stroke-width="1"/>
<rect x="590.75" y="318.4" width="2.9" height="8.0" fill="#ff0000" stroke="#7a2020" stroke-width="0.7"/>
<line x1="596.82" x2="596.82" y1="311.4" y2="337.0" stroke="#4a4040" stroke-width="1"/>
<rect x="595.37" y="314.2" width="2.9" height="11.7" fill="#0a7f0a" stroke="#2f4a2f" stroke-width="0.7"/>
<line x1="601.44" x2="601.44" y1="305.0" y2="348.1" stroke="#4a4040" stroke-width="1"/>
<rect x="599.99" y="314.2" width="2.9" height="25.0" fill="#ff0000" stroke="#7a2020" stroke-width="0.7"/>
<line x1="606.06" x2="606.06" y1="320.0" y2="354.3" stroke="#4a4040" stroke-width="1"/>
<rect x="604.61" y="325.9" width="2.9" height="12.8" fill="#0a7f0a" stroke="#2f4a2f" stroke-width="0.7"/>
<line x1="610.68" x2="610.68" y1="317.5" y2="336.4" stroke="#4a4040" stroke-width="1"/>
<rect x="608.98" y="325.2" width="3.4" height="1.3" fill="#5e2626"/>
<line x1="615.30" x2="615.30" y1="322.5" y2="343.4" stroke="#4a4040" stroke-width="1"/>
<rect x="613.85" y="325.4" width="2.9" height="3.3" fill="#ff0000" stroke="#7a2020" stroke-width="0.7"/>
<line x1="619.92" x2="619.92" y1="328.0" y2="351.8" stroke="#4a4040" stroke-width="1"/>
<rect x="618.47" y="328.7" width="2.9" height="7.2" fill="#ff0000" stroke="#7a2020" stroke-width="0.7"/>
<line x1="624.54" x2="624.54" y1="335.0" y2="358.4" stroke="#4a4040" stroke-width="1"/>
<rect x="623.09" y="335.9" width="2.9" height="16.7" fill="#ff0000" stroke="#7a2020" stroke-width="0.7"/>
<line x1="629.16" x2="629.16" y1="344.2" y2="359.3" stroke="#4a4040" stroke-width="1"/>
<rect x="627.71" y="349.2" width="2.9" height="9.2" fill="#0a7f0a" stroke="#2f4a2f" stroke-width="0.7"/>
<line x1="633.78" x2="633.78" y1="346.4" y2="359.3" stroke="#4a4040" stroke-width="1"/>
<rect x="632.08" y="348.4" width="3.4" height="1.3" fill="#5e2626"/>
<line x1="638.40" x2="638.40" y1="338.4" y2="364.8" stroke="#4a4040" stroke-width="1"/>
<rect x="636.95" y="342.9" width="2.9" height="6.3" fill="#0a7f0a" stroke="#2f4a2f" stroke-width="0.7"/>
<line x1="643.02" x2="643.02" y1="331.7" y2="352.6" stroke="#4a4040" stroke-width="1"/>
<rect x="641.57" y="337.0" width="2.9" height="6.0" fill="#0a7f0a" stroke="#2f4a2f" stroke-width="0.7"/>
<line x1="647.64" x2="647.64" y1="312.0" y2="342.6" stroke="#4a4040" stroke-width="1"/>
<rect x="646.19" y="315.9" width="2.9" height="21.1" fill="#0a7f0a" stroke="#2f4a2f" stroke-width="0.7"/>
<line x1="652.26" x2="652.26" y1="296.9" y2="330.6" stroke="#4a4040" stroke-width="1"/>
<rect x="650.81" y="316.3" width="2.9" height="6.2" fill="#0a7f0a" stroke="#2f4a2f" stroke-width="0.7"/>
<line x1="656.88" x2="656.88" y1="295.0" y2="333.8" stroke="#4a4040" stroke-width="1"/>
<rect x="655.43" y="297.5" width="2.9" height="18.8" fill="#0a7f0a" stroke="#2f4a2f" stroke-width="0.7"/>
<line x1="661.50" x2="661.50" y1="290.6" y2="315.0" stroke="#4a4040" stroke-width="1"/>
<rect x="660.05" y="292.5" width="2.9" height="5.0" fill="#0a7f0a" stroke="#2f4a2f" stroke-width="0.7"/>
<line x1="666.12" x2="666.12" y1="289.4" y2="330.6" stroke="#4a4040" stroke-width="1"/>
<rect x="664.67" y="292.5" width="2.9" height="26.3" fill="#ff0000" stroke="#7a2020" stroke-width="0.7"/>
<line x1="670.74" x2="670.74" y1="311.3" y2="336.3" stroke="#4a4040" stroke-width="1"/>
<rect x="669.29" y="313.1" width="2.9" height="6.3" fill="#0a7f0a" stroke="#2f4a2f" stroke-width="0.7"/>
<line x1="675.36" x2="675.36" y1="313.1" y2="345.6" stroke="#4a4040" stroke-width="1"/>
<rect x="673.91" y="319.8" width="2.9" height="16.5" fill="#ff0000" stroke="#7a2020" stroke-width="0.7"/>
<line x1="679.98" x2="679.98" y1="334.8" y2="364.4" stroke="#4a4040" stroke-width="1"/>
<rect x="678.28" y="334.8" width="3.4" height="1.8" fill="#5e2626"/>
<line x1="684.60" x2="684.60" y1="335.6" y2="358.1" stroke="#4a4040" stroke-width="1"/>
<rect x="683.15" y="339.4" width="2.9" height="3.7" fill="#0a7f0a" stroke="#2f4a2f" stroke-width="0.7"/>
<line x1="689.22" x2="689.22" y1="327.6" y2="351.9" stroke="#4a4040" stroke-width="1"/>
<rect x="687.77" y="328.1" width="2.9" height="17.5" fill="#0a7f0a" stroke="#2f4a2f" stroke-width="0.7"/>
<line x1="693.84" x2="693.84" y1="303.1" y2="336.3" stroke="#4a4040" stroke-width="1"/>
<rect x="692.39" y="306.9" width="2.9" height="21.2" fill="#0a7f0a" stroke="#2f4a2f" stroke-width="0.7"/>
<line x1="698.46" x2="698.46" y1="295.0" y2="321.3" stroke="#4a4040" stroke-width="1"/>
<rect x="697.01" y="300.6" width="2.9" height="5.7" fill="#0a7f0a" stroke="#2f4a2f" stroke-width="0.7"/>
<line x1="703.08" x2="703.08" y1="289.0" y2="314.8" stroke="#4a4040" stroke-width="1"/>
<rect x="701.63" y="292.5" width="2.9" height="15.3" fill="#0a7f0a" stroke="#2f4a2f" stroke-width="0.7"/>
<path d="M16.7,202.6 C18.1,200.8 22.2,194.9 25.0,191.7 C27.8,188.5 30.6,185.8 33.4,183.4 C36.2,181.0 39.0,179.2 41.8,177.5 C44.6,175.8 47.2,174.6 50.0,173.4 C52.8,172.2 55.7,171.2 58.5,170.4 C61.3,169.6 64.0,168.9 66.8,168.4 C69.6,167.9 72.4,167.8 75.2,167.5 C78.0,167.2 80.7,166.7 83.5,166.7 C86.3,166.7 89.1,167.6 91.9,167.5 C94.7,167.4 97.4,166.2 100.2,166.3 C103.0,166.4 105.8,167.0 108.6,168.0 C111.4,169.0 114.1,170.9 116.9,172.5 C119.7,174.1 123.1,176.4 125.3,177.5 C127.5,178.6 127.8,178.4 130.0,179.3 C132.2,180.2 135.6,181.8 138.4,183.1 C141.2,184.4 143.9,185.9 146.7,187.1 C149.5,188.3 152.2,189.1 155.0,190.1 C157.8,191.1 160.6,192.3 163.4,193.1 C166.2,193.9 169.0,194.9 171.8,195.1 C174.6,195.3 177.3,194.6 180.1,194.3 C182.9,194.0 185.7,193.4 188.5,193.1 C191.3,192.8 194.0,192.8 196.8,192.6 C199.6,192.4 202.4,192.3 205.2,191.8 C208.0,191.3 210.7,190.8 213.5,189.8 C216.3,188.8 219.1,187.5 221.9,186.0 C224.7,184.5 227.4,182.7 230.2,181.0 C233.0,179.3 235.8,177.4 238.6,176.0 C241.4,174.6 244.1,173.9 246.9,172.6 C249.7,171.3 252.5,169.5 255.3,168.1 C258.1,166.7 261.1,165.4 263.6,164.3 C266.1,163.2 267.9,162.5 270.4,161.8 C272.9,161.1 275.9,160.7 278.7,160.1 C281.5,159.5 284.8,158.8 287.0,158.4 C289.2,158.0 290.1,157.4 292.0,157.6 C293.9,157.8 296.5,158.5 298.7,159.3 C300.9,160.1 303.2,161.1 305.4,162.6 C307.6,164.1 309.9,166.4 312.1,168.5 C314.3,170.6 316.6,172.9 318.8,175.1 C321.0,177.3 323.3,179.3 325.5,181.8 C327.7,184.3 329.6,186.9 332.1,190.2 C334.6,193.5 337.4,197.0 340.5,201.7 C343.6,206.4 347.2,212.8 350.5,218.4 C353.8,224.0 357.1,229.5 360.5,235.1 C363.9,240.7 367.5,246.8 370.6,251.8 C373.7,256.8 376.4,261.1 378.9,265.1 C381.4,269.1 383.1,272.7 385.6,276.0 C388.1,279.3 390.9,282.2 394.0,285.0 C397.1,287.8 401.2,289.7 404.3,292.5 C407.4,295.3 409.9,298.9 412.7,301.7 C415.5,304.5 418.5,307.3 421.0,309.2 C423.5,311.1 425.5,312.5 427.7,313.1 C429.9,313.8 431.9,313.5 434.4,313.1 C436.9,312.7 439.9,312.1 442.7,310.9 C445.5,309.7 448.3,307.7 451.1,305.9 C453.9,304.1 456.6,301.9 459.4,300.0 C462.2,298.1 465.0,296.0 467.8,294.2 C470.6,292.4 473.3,290.5 476.1,289.2 C478.9,287.9 481.7,287.4 484.5,286.4 C487.3,285.4 490.3,284.7 492.8,283.4 C495.3,282.1 497.3,280.3 499.5,278.4 C501.7,276.5 504.0,273.9 506.2,272.0 C508.4,270.1 510.7,268.3 512.9,266.8 C515.1,265.3 517.3,263.9 519.5,263.1 C521.7,262.3 524.0,262.2 526.2,262.1 C528.4,262.0 530.9,262.3 532.9,262.6 C534.9,262.9 536.1,262.8 538.4,263.8 C540.7,264.8 543.9,266.9 546.7,268.4 C549.5,269.9 552.2,271.4 555.0,272.6 C557.8,273.8 560.6,274.5 563.4,275.4 C566.2,276.3 569.0,277.0 571.8,278.1 C574.6,279.2 577.3,280.2 580.1,281.8 C582.9,283.4 585.7,285.4 588.5,287.6 C591.3,289.8 594.0,292.7 596.8,294.8 C599.6,296.9 602.4,298.4 605.2,300.1 C608.0,301.8 610.7,303.7 613.5,305.2 C616.3,306.7 619.1,307.9 621.9,309.3 C624.6,310.7 627.0,312.0 630.0,313.5 C633.0,315.0 636.7,317.0 640.0,318.5 C643.3,320.0 647.3,321.7 650.0,322.6 C652.7,323.5 653.9,323.4 656.0,323.8 C658.1,324.2 660.4,324.5 662.5,324.8 C664.6,325.1 666.7,325.2 668.8,325.6 C670.9,326.0 673.0,326.9 675.0,327.3 C677.0,327.7 678.9,327.8 681.0,327.9 C683.1,328.0 685.4,328.0 687.5,327.8 C689.6,327.6 691.7,327.3 693.8,326.9 C695.9,326.5 698.5,325.7 700.0,325.3 C701.5,324.9 702.5,324.5 703.0,324.4" fill="none" stroke="#f57f7f" stroke-width="0.9" stroke-linejoin="round"/>
<path d="M15.0,211.5 C18.1,211.1 27.6,209.9 33.4,209.0 C39.2,208.1 44.4,207.1 50.0,206.0 C55.6,204.9 61.2,203.6 66.8,202.6 C72.4,201.6 78.0,200.7 83.5,199.8 C89.0,198.9 94.4,197.8 100.0,197.0 C105.6,196.2 112.0,195.6 117.0,195.0 C122.0,194.4 125.0,194.4 130.0,193.5 C134.9,192.6 141.1,190.9 146.7,189.8 C152.3,188.7 157.8,187.6 163.4,186.8 C169.0,186.0 174.5,185.5 180.1,184.8 C185.7,184.1 191.2,183.3 196.8,182.6 C202.4,181.9 207.9,181.2 213.5,180.4 C219.1,179.7 226.0,178.8 230.2,178.1 C234.4,177.4 235.8,176.4 238.6,176.0 C241.4,175.6 244.2,175.3 247.0,175.4 C249.8,175.5 252.5,176.1 255.3,176.4 C258.1,176.7 260.8,177.0 263.6,177.1 C266.4,177.2 269.5,176.9 272.0,176.8 C274.5,176.8 274.8,176.8 278.7,176.8 C282.6,176.8 291.2,176.6 295.4,176.8 C299.6,177.0 301.0,177.6 303.8,178.1 C306.6,178.6 309.3,179.2 312.1,179.8 C314.9,180.4 317.7,181.1 320.5,181.8 C323.3,182.6 326.0,183.3 328.8,184.3 C331.6,185.3 333.9,186.1 337.2,187.6 C340.5,189.1 345.0,191.5 348.9,193.4 C352.8,195.3 356.9,197.5 360.5,199.2 C364.1,200.9 367.0,201.9 370.6,203.4 C374.2,204.9 378.4,206.7 382.3,208.4 C386.2,210.1 390.3,211.5 394.0,213.4 C397.7,215.3 401.2,217.9 404.3,220.0 C407.4,222.1 409.9,224.1 412.7,225.9 C415.5,227.7 418.2,229.3 421.0,230.9 C423.8,232.5 426.6,233.9 429.4,235.4 C432.2,236.9 434.9,238.6 437.7,240.1 C440.5,241.6 443.3,243.1 446.1,244.3 C448.9,245.6 451.6,246.5 454.4,247.6 C457.2,248.7 460.0,249.8 462.8,250.9 C465.6,252.0 468.3,253.1 471.1,254.3 C473.9,255.5 476.7,256.9 479.5,258.1 C482.3,259.4 485.1,260.6 487.9,261.8 C490.7,263.0 493.4,264.0 496.2,265.1 C499.0,266.2 501.7,267.2 504.5,268.5 C507.3,269.8 510.1,271.2 512.9,272.6 C515.7,274.0 518.4,275.4 521.2,276.8 C524.0,278.2 526.7,279.8 529.6,281.0 C532.5,282.2 535.5,283.0 538.4,283.8 C541.2,284.6 543.9,285.4 546.7,286.0 C549.5,286.6 552.2,287.2 555.0,287.6 C557.8,288.0 559.2,288.0 563.4,288.1 C567.6,288.2 574.5,288.3 580.1,288.5 C585.7,288.7 591.2,288.9 596.8,289.3 C602.4,289.7 609.3,290.4 613.5,291.0 C617.7,291.6 619.1,292.1 621.9,292.6 C624.7,293.2 627.4,293.9 630.2,294.3 C633.0,294.7 635.8,294.8 638.6,294.8 C641.4,294.8 644.1,294.6 646.9,294.3 C649.7,294.1 652.7,293.6 655.3,293.3 C657.9,293.0 660.2,292.5 662.5,292.5 C664.8,292.5 666.7,292.7 668.8,293.1 C670.9,293.5 673.0,294.3 675.0,295.0 C677.0,295.7 678.9,296.7 681.0,297.5 C683.1,298.3 685.4,299.3 687.5,300.0 C689.6,300.7 691.7,301.4 693.8,301.9 C695.9,302.4 698.4,302.9 700.0,303.1 C701.6,303.4 702.9,303.3 703.5,303.4" fill="none" stroke="#5a7ebc" stroke-width="0.95" stroke-linejoin="round"/>
<line x1="291.9" y1="133.7" x2="698" y2="307.9" stroke="#2f5597" stroke-width="2.05" stroke-linecap="round"/>
<line x1="416.6" y1="351.3" x2="684.4" y2="362.4" stroke="#2f5597" stroke-width="2.0" stroke-linecap="round"/>
<line x1="11" x2="782" y1="203.6" y2="203.6" stroke="#46a302" stroke-width="2.2" stroke-opacity="0.95"/>
<line x1="11" x2="782" y1="234.3" y2="234.3" stroke="#46a302" stroke-width="2.2" stroke-opacity="0.95"/>
<line x1="11" x2="782" y1="327.5" y2="327.5" stroke="#1c61e7" stroke-width="1.2"/>
<line x1="708" x2="774" y1="292.75" y2="292.75" stroke="#444" stroke-width="1.25" stroke-dasharray="1 3"/>
<line x1="708" x2="776" y1="303.25" y2="303.25" stroke="#3b6fd0" stroke-width="1.3" stroke-dasharray="1 3"/>
<line x1="707.5" y1="292.5" x2="765.5" y2="213.1" stroke="#2e5fa3" stroke-width="4.2"/>
<polygon points="772.3,203.8 770.7,218.1 759.1,209.6" fill="#2e5fa3"/>
<path d="M775.2,203.4 L781.6,195.4 L846,195.4 Q847,195.4 847,196.4 L847,210.4 Q847,211.4 846,211.4 L781.6,211.4 Z" fill="#46a302"/>
<text x="785" y="207.3" font-size="11" fill="#fff">22.30</text>
<path d="M775.2,234.2 L781.6,226.2 L846,226.2 Q847,226.2 847,227.2 L847,241.2 Q847,242.2 846,242.2 L781.6,242.2 Z" fill="#46a302"/>
<text x="785" y="238.1" font-size="11" fill="#fff">22.20</text>
<path d="M775.2,292.7 L781.6,285.1 L846,285.1 Q847,285.1 847,286.1 L847,299.3 Q847,300.3 846,300.3 L781.6,300.3 Z" fill="#333333"/>
<text x="785" y="296.6" font-size="11" fill="#fff">22.01</text>
<path d="M775.2,327.5 L781.6,319.9 L846,319.9 Q847,319.9 847,320.9 L847,334.1 Q847,335.1 846,335.1 L781.6,335.1 Z" fill="#1c61e7"/>
<text x="785" y="331.4" font-size="11" fill="#fff">21.90</text>
<text x="785" y="367.6" font-size="11" fill="#fa1616">21.78</text>
<text x="785" y="408.6" font-size="11" fill="#fa1616">21.65</text>
<line x1="1" x2="849" y1="416.3" y2="416.3" stroke="#e6e9ed" stroke-width="1.6"/>
<line x1="11" x2="776" y1="460.4" y2="460.4" stroke="#aeaeb4" stroke-width="1.2" stroke-dasharray="1 3"/>
<line x1="11" x2="776" y1="494" y2="494" stroke="#9e9ea4" stroke-width="1.2" stroke-dasharray="1 3"/>
<line x1="11" x2="776" y1="527.4" y2="527.4" stroke="#a8a8ae" stroke-width="1.2" stroke-dasharray="1 3"/>
<polyline points="14.7,462.6 19.3,471.4 23.9,468.2 28.6,464.7 33.2,464.4 37.8,477.7 42.4,476.9 47.0,481.4 51.7,478.9 56.3,476.4 60.9,487.7 65.5,500.7 70.1,489.0 74.8,491.5 79.4,502.7 84.0,496.5 88.6,503.2 93.2,504.7 97.9,496.5 102.5,485.2 107.1,494.7 111.7,494.0 116.3,497.2 121.0,499.5 125.6,501.5 130.2,510.3 134.8,505.8 139.4,502.3 144.1,502.3 148.7,496.5 153.3,499.7 157.9,503.3 162.5,507.8 167.2,507.3 171.8,499.0 176.4,485.7 181.0,482.2 185.6,485.2 190.3,484.5 194.9,483.5 199.5,480.2 204.1,481.4 208.7,477.1 213.4,487.7 218.0,475.6 222.6,481.9 227.2,477.6 231.8,472.6 236.5,462.1 241.1,474.6 245.7,493.2 250.3,486.4 254.9,488.2 259.6,483.9 264.2,488.2 268.8,482.7 273.4,481.4 278.0,493.2 282.7,505.2 287.3,481.4 291.9,487.7 296.5,505.2 301.1,508.2 305.8,514.0 310.4,519.0 315.0,509.7 319.6,510.2 324.2,517.7 328.9,519.0 333.5,522.3 338.1,526.5 342.7,531.0 347.3,532.3 352.0,530.3 356.6,527.8 361.2,525.8 365.8,519.5 370.4,524.0 375.1,525.3 379.7,527.3 384.3,522.3 388.9,510.7 393.5,505.2 398.2,507.2 402.8,514.7 407.4,522.8 412.0,524.5 416.6,522.3 421.3,522.3 425.9,524.5 430.5,501.5 435.1,496.9 439.7,499.4 444.4,488.2 449.0,477.6 453.6,466.9 458.2,470.9 462.8,484.7 467.5,483.2 472.1,481.4 476.7,484.7 481.3,488.4 485.9,486.4 490.6,487.2 495.2,489.7 499.8,483.2 504.4,483.2 509.0,478.4 513.7,495.2 518.3,494.4 522.9,502.7 527.5,510.2 532.1,518.5 536.8,504.0 541.4,504.5 546.0,496.4 550.6,500.7 555.2,498.4 559.9,500.7 564.5,498.4 569.1,499.7 573.7,500.7 578.3,505.7 583.0,514.7 587.6,516.0 592.2,519.5 596.8,509.0 601.4,521.0 606.1,511.5 610.7,510.7 615.3,513.2 619.9,516.5 624.5,523.3 629.2,520.8 633.8,520.8 638.4,514.7 643.0,509.0 647.6,493.4 652.3,493.2 656.9,480.9 661.5,478.1 666.1,496.4 670.7,493.4 675.4,506.5 680.0,506.0 684.6,507.7 689.2,499.7 693.8,486.4 698.5,482.7 703.1,479.4" fill="none" stroke="#6c8ee6" stroke-width="1" stroke-linejoin="round"/>
<path d="M15.0,480.2 C16.7,479.6 21.7,477.6 25.0,476.4 C28.3,475.1 31.2,473.5 35.0,472.7 C38.8,471.9 43.4,471.1 47.6,471.4 C51.8,471.7 56.4,473.1 60.2,474.7 C64.0,476.2 66.9,478.7 70.2,480.7 C73.5,482.7 76.9,484.6 80.2,486.5 C83.5,488.4 87.3,490.5 90.2,492.2 C93.1,493.9 94.8,495.9 97.7,496.5 C100.6,497.1 104.0,496.0 107.8,496.0 C111.6,496.0 115.7,496.1 120.3,496.5 C124.9,496.9 130.7,497.5 135.3,498.2 C139.9,498.9 143.7,500.0 147.9,500.8 C152.1,501.6 157.1,502.3 160.4,502.8 C163.7,503.3 165.4,504.4 167.9,504.0 C170.4,503.6 172.5,501.7 175.4,500.3 C178.3,498.9 182.2,497.0 185.5,495.7 C188.8,494.4 192.6,493.9 195.5,492.7 C198.4,491.5 200.6,490.0 203.0,488.5 C205.4,487.0 207.6,484.9 210.0,483.9 C212.4,482.8 215.0,482.5 217.5,482.2 C220.0,481.9 222.5,482.3 225.0,481.9 C227.5,481.5 230.1,480.4 232.6,479.6 C235.1,478.8 237.2,477.1 240.1,477.1 C243.0,477.1 246.3,478.8 250.1,479.4 C253.9,480.0 258.9,480.2 262.7,480.7 C266.5,481.2 269.4,480.8 272.7,482.2 C276.0,483.6 279.4,487.9 282.7,488.9 C286.0,489.9 289.3,487.5 292.7,488.2 C296.1,488.9 299.4,491.2 302.8,493.2 C306.2,495.2 309.5,498.1 312.8,500.2 C316.1,502.3 319.5,503.5 322.8,505.7 C326.1,507.9 329.0,510.8 332.8,513.2 C336.6,515.6 340.8,518.2 345.4,520.3 C350.0,522.4 355.4,524.7 360.4,525.8 C365.4,526.9 371.6,526.9 375.4,527.0 C379.2,527.1 380.5,527.2 383.0,526.5 C385.5,525.8 387.6,524.3 390.5,522.8 C393.4,521.3 396.8,518.6 400.5,517.7 C404.2,516.9 408.4,517.9 412.5,517.7 C416.6,517.5 420.4,517.1 425.0,516.5 C429.6,515.9 436.2,515.2 440.0,514.0 C443.8,512.8 445.1,511.5 447.6,509.0 C450.1,506.5 452.5,502.1 455.0,499.0 C457.5,495.9 460.2,492.6 462.7,490.2 C465.2,487.8 467.7,486.1 470.2,484.7 C472.7,483.3 475.2,482.6 477.7,481.9 C480.2,481.2 482.7,480.6 485.2,480.7 C487.7,480.8 490.2,481.9 492.7,482.7 C495.2,483.4 497.4,484.8 500.3,485.2 C503.2,485.6 507.0,484.8 510.3,485.2 C513.6,485.6 517.0,486.2 520.3,487.7 C523.6,489.1 526.9,492.1 530.3,493.9 C533.6,495.7 537.0,496.9 540.4,498.4 C543.8,499.9 547.1,501.8 550.4,502.7 C553.7,503.6 557.1,504.1 560.4,504.0 C563.7,503.9 567.5,502.8 570.4,502.2 C573.3,501.6 575.1,499.9 578.0,500.2 C580.9,500.5 584.7,502.8 588.0,504.0 C591.3,505.2 595.1,506.6 598.0,507.7 C600.9,508.8 603.5,509.9 605.5,510.7 C607.5,511.4 607.6,511.5 610.0,512.2 C612.4,513.0 616.7,514.5 620.0,515.2 C623.3,515.9 626.7,516.3 630.0,516.5 C633.3,516.7 636.7,517.1 640.0,516.5 C643.3,515.9 646.6,514.6 650.0,512.7 C653.4,510.8 656.8,507.6 660.2,505.2 C663.6,502.8 666.9,499.9 670.2,498.2 C673.5,496.5 676.9,495.7 680.2,495.2 C683.5,494.7 686.4,495.2 690.2,495.2 C694.0,495.2 700.9,495.4 703.0,495.4" fill="none" stroke="#f43a3a" stroke-width="1.1" stroke-linejoin="round"/>
<line x1="705" x2="776" y1="479.4" y2="479.4" stroke="#4a78dc" stroke-width="1.2" stroke-dasharray="1 3"/>
<text x="785" y="464.3" font-size="11" fill="#6c6c76">70</text>
<text x="785" y="497.8" font-size="11" fill="#6c6c76">50</text>
<text x="785" y="531.2" font-size="11" fill="#6c6c76">30</text>
<path d="M11,552 L11,546 L776,546 L776,552" fill="none" stroke="#a9a9b0" stroke-width="1.8"/>
<text x="153" y="562.6" font-size="11" fill="#6c6c76" text-anchor="middle">Feb 9</text>
<text x="370" y="562.6" font-size="11" fill="#6c6c76" text-anchor="middle">Feb 10</text>
<text x="583" y="562.6" font-size="11" fill="#6c6c76" text-anchor="middle">Feb 13</text>
<text x="707.5" y="562.6" font-size="11" fill="#6c6c76" text-anchor="middle">Feb 14</text>
<rect x="13.7" y="84.2" width="12.2" height="4.4" fill="#f87f7f"/>
<text x="33" y="90" font-size="10" fill="#6d7178">MA 20 + Bollinger Bands</text>
<rect x="156" y="84.2" width="12.6" height="4.4" fill="#2f5597"/>
<text x="175.3" y="90" font-size="10" fill="#6d7178">MA 50</text>
<text x="841" y="90" font-size="10" fill="#a6a6a6" text-anchor="end">Research © 2023 Trading Central</text>
<rect x="13.8" y="429.4" width="12" height="4" fill="#5b86e6"/>
<text x="33" y="435" font-size="10" fill="#6d7178">RSI</text>
<rect x="62" y="429.4" width="12.6" height="4" fill="#ff0000"/>
<text x="82" y="435" font-size="10" fill="#6d7178">9MA</text>
</svg>
</body></html>
